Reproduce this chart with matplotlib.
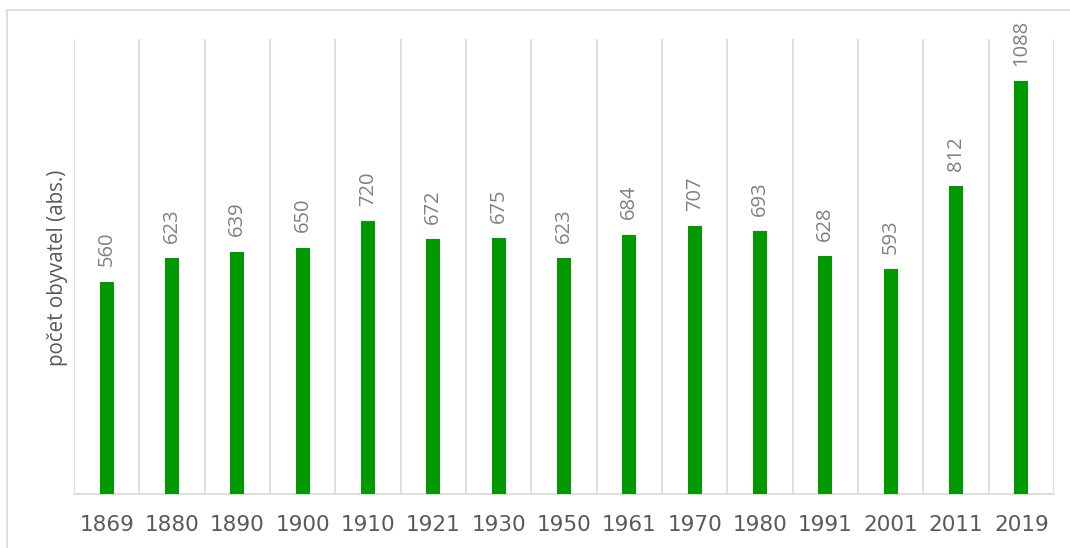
import matplotlib.pyplot as plt
from matplotlib.lines import Line2D

years = ['1869', '1880', '1890', '1900', '1910', '1921', '1930', '1950',
         '1961', '1970', '1980', '1991', '2001', '2011', '2019']
population = [560, 623, 639, 650, 720, 672, 675, 623, 684, 707, 693, 628, 593, 812, 1088]

plt.rcParams['font.family'] = ['Open Sans', 'DejaVu Sans']

fig = plt.figure(figsize=(10.7, 5.48), dpi=100)
ax = fig.add_axes([74 / 1070, 54 / 548, 980 / 1070, 455 / 548])

x = list(range(len(years)))
ax.bar(x, population, width=0.21, color='#009900', zorder=3)

for xi, v in zip(x, population):
    ax.annotate(str(v), (xi, v), xytext=(0, 11), textcoords='offset points',
                rotation=90, ha='center', va='bottom', fontsize=14.5, color='#808080')

for b in range(len(years) + 1):
    ax.axvline(b - 0.5, color='#d9d9d9', lw=1.2, zorder=1)

ax.set_xlim(-0.5, len(years) - 0.5)
ax.set_ylim(0, 1200)
for s in ['top', 'left', 'right']:
    ax.spines[s].set_visible(False)
ax.spines['bottom'].set_color('#d9d9d9')
ax.spines['bottom'].set_linewidth(1.2)
ax.set_yticks([])
ax.set_xticks(x)
ax.set_xticklabels(years, fontsize=15.5, color='#595959', family='DejaVu Sans')
ax.tick_params(axis='x', length=0, pad=15)
ax.set_ylabel('počet obyvatel (abs.)', fontsize=14.8, color='#595959')
ax.yaxis.set_label_coords(-0.0065, 0.497)

# chart area border
fig.add_artist(Line2D([7 / 1070, 7 / 1070], [0, 1 - 10 / 548], transform=fig.transFigure, color='#d9d9d9', lw=1.2))
fig.add_artist(Line2D([7 / 1070, 1], [1 - 10 / 548, 1 - 10 / 548], transform=fig.transFigure, color='#d9d9d9', lw=1.2))

fig.savefig('out.png', dpi=100)
